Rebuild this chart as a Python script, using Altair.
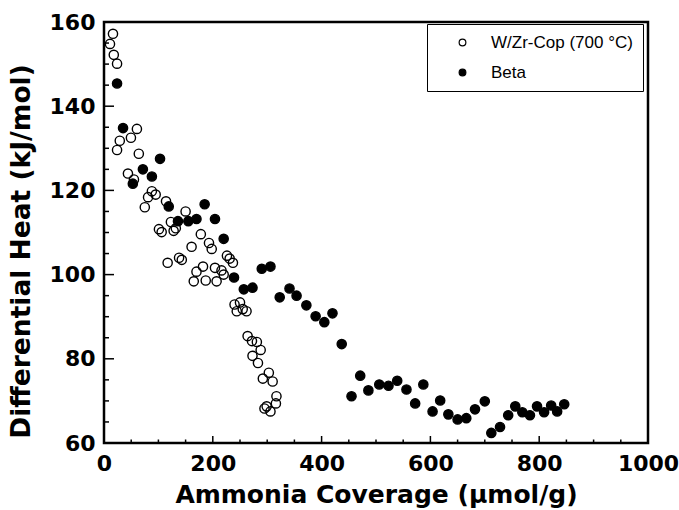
import altair as alt
import pandas as pd

# W/Zr-Cop (700 °C) — open circles
wz_x = [11, 16.5, 18, 24, 60.5, 49.5, 29, 24, 64, 44, 55, 88, 95, 81, 75, 114, 150, 123,
        101, 106, 132, 128, 178, 193, 198, 161, 226, 231, 237, 138, 143, 117, 182, 170,
        204, 216, 220, 165, 187, 207,
        240, 250, 244, 255, 262, 264, 272, 281, 288, 273, 283, 303, 292, 310, 317, 316,
        299, 295, 306]
wz_y = [154.8, 157.2, 152.2, 150.1, 134.6, 132.5, 131.8, 129.6, 128.7, 124.0, 122.6,
        119.8, 119.0, 118.4, 116.0, 117.4, 115.0, 112.5, 110.8, 110.1, 111.0, 110.4,
        109.6, 107.5, 106.1, 106.6, 104.5, 103.8, 102.8, 104.0, 103.5, 102.8, 101.9,
        100.7, 101.6, 101.0, 100.0, 98.4, 98.6, 98.4,
        92.9, 93.4, 91.3, 91.8, 91.3, 85.4, 84.2, 84.0, 82.1, 80.7, 79.0, 76.7, 75.3,
        74.6, 71.1, 69.4, 68.7, 68.2, 67.5]

# Beta — filled circles
beta_x = [24, 35, 103, 71.5, 88, 53, 119, 185, 204, 170, 155, 136, 220, 290, 306, 239,
          257, 273, 341, 323, 354, 372, 389, 405, 420, 437, 455, 471, 486, 506, 523,
          539, 556, 572, 587, 604, 618, 633, 650, 666, 682, 700, 712, 728, 743, 756,
          769, 783, 796, 809, 822, 833, 846]
beta_y = [145.4, 134.8, 127.5, 125.0, 123.3, 121.6, 116.2, 116.7, 113.2, 113.2, 112.7,
          112.7, 108.5, 101.4, 101.9, 99.3, 96.5, 96.9, 96.7, 94.6, 95.0, 92.7, 90.1,
          88.7, 90.8, 83.5, 71.1, 76.0, 72.5, 73.9, 73.6, 74.8, 72.7, 69.4, 73.9, 67.5,
          70.1, 66.8, 65.6, 65.9, 68.0, 69.9, 62.4, 63.8, 66.6, 68.7, 67.3, 66.6, 68.7,
          67.3, 68.9, 67.5, 69.2]

series_names = ["W/Zr-Cop (700 °C)", "Beta"]

x_major = [0, 200, 400, 600, 800, 1000]
x_minor = [50, 100, 150, 250, 300, 350, 450, 500, 550, 650, 700, 750, 850, 900, 950]
y_major = [60, 80, 100, 120, 140, 160]
y_minor = [65, 70, 75, 85, 90, 95, 105, 110, 115, 125, 130, 135, 145, 150, 155]

W, H = 544, 421
AXFONT = "DejaVu Sans"
LEGFONT = "Liberation Sans"

df = pd.concat([
    pd.DataFrame({"x": wz_x, "y": wz_y, "series": series_names[0]}),
    pd.DataFrame({"x": beta_x, "y": beta_y, "series": series_names[1]}),
], ignore_index=True)

xscale = alt.Scale(domain=[0, 1000], nice=False, zero=False)
yscale = alt.Scale(domain=[60, 160], nice=False, zero=False)

points = alt.Chart(df).mark_point(
    shape="circle", filled=True, size=85, stroke="black", strokeWidth=1.4, opacity=1
).encode(
    x=alt.X("x:Q", scale=xscale,
            axis=alt.Axis(values=x_major, format="d", title="Ammonia Coverage (μmol/g)",
                          labelPadding=10, titlePadding=8, titleFontSize=25)),
    y=alt.Y("y:Q", scale=yscale,
            axis=alt.Axis(values=y_major, format="d", title="Differential Heat (kJ/mol)",
                          labelPadding=9, titlePadding=14, titleFontSize=26.5,
                          titleY=229)),
    fill=alt.Fill("series:N",
                  scale=alt.Scale(domain=series_names, range=["transparent", "black"]),
                  legend=alt.Legend(title=None, orient="none", legendX=323, legendY=2,
                                    strokeColor="black", fillColor="white", padding=10,
                                    symbolSize=45, symbolStrokeColor="black",
                                    symbolStrokeWidth=1.2, symbolType="circle",
                                    symbolOffset=17, labelOffset=20, rowPadding=12,
                                    labelFont=LEGFONT, labelFontSize=17,
                                    labelColor="black", labelLimit=300)),
)

xmaj = alt.Chart(pd.DataFrame({"v": x_major})).mark_rule(color="black", strokeWidth=1.5).encode(
    x=alt.X("v:Q", scale=xscale), y=alt.value(H), y2=alt.value(H - 7))
xmin = alt.Chart(pd.DataFrame({"v": x_minor})).mark_rule(color="black", strokeWidth=1.5).encode(
    x=alt.X("v:Q", scale=xscale), y=alt.value(H), y2=alt.value(H - 3.5))
ymaj = alt.Chart(pd.DataFrame({"v": y_major})).mark_rule(color="black", strokeWidth=1.5).encode(
    y=alt.Y("v:Q", scale=yscale), x=alt.value(0), x2=alt.value(10))
ymin = alt.Chart(pd.DataFrame({"v": y_minor})).mark_rule(color="black", strokeWidth=1.5).encode(
    y=alt.Y("v:Q", scale=yscale), x=alt.value(0), x2=alt.value(5))

chart = alt.layer(xmaj, xmin, ymaj, ymin, points).properties(
    width=W, height=H,
    background="white",
    autosize=alt.AutoSizeParams(type="none"),
    padding={"left": 104, "top": 22, "right": 31, "bottom": 67},
).configure_view(
    stroke="black", strokeWidth=2.5
).configure_axis(
    domain=False, ticks=False, grid=False, labelFlush=False,
    labelFont=AXFONT, labelFontWeight="bold", labelFontSize=22, labelColor="black",
    titleFont=AXFONT, titleFontWeight="bold", titleColor="black",
)

chart.save("out.html", embed_options={"renderer": "svg", "actions": False})
